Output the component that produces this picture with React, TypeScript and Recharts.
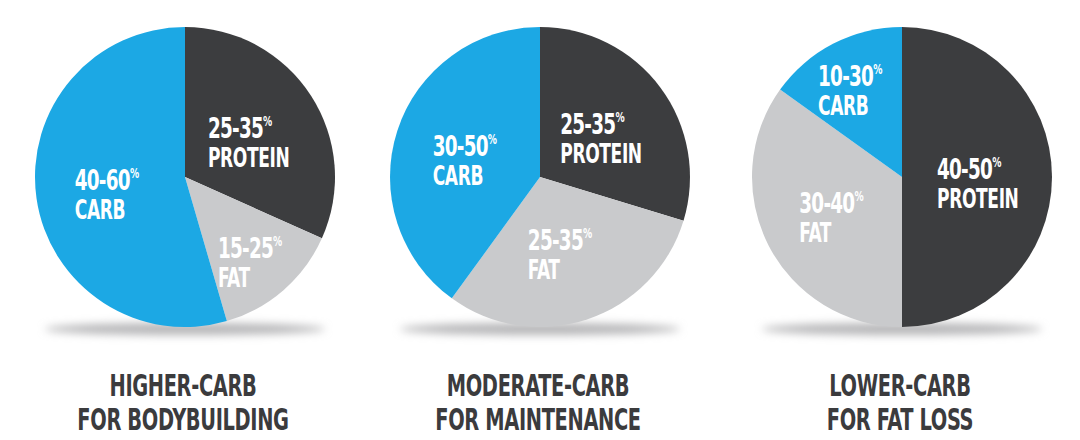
import { PieChart, Pie, Cell } from "recharts";

// slices go clockwise from 12 o'clock: protein, fat, carb
const macroNames = ["PROTEIN", "FAT", "CARB"];
const macroColors = ["#3c3d3f", "#c9cacc", "#1ca8e4"];

const higherCarbRanges = ["25-35", "15-25", "40-60"];
const higherCarbShares = [31.7, 13.8, 54.5];

const moderateCarbRanges = ["25-35", "25-35", "30-50"];
const moderateCarbShares = [29.7, 30.3, 40];

const lowerCarbRanges = ["40-50", "30-40", "10-30"];
const lowerCarbShares = [50, 34.9, 15.1];

const chartTitles = [
  ["HIGHER-CARB", "FOR BODYBUILDING"],
  ["MODERATE-CARB", "FOR MAINTENANCE"],
  ["LOWER-CARB", "FOR FAT LOSS"],
];

const FONT =
  "'Liberation Sans Narrow', 'DejaVu Sans Condensed', 'Roboto Condensed', 'Liberation Sans', Arial, sans-serif";

const RADIAN = Math.PI / 180;
const RADIUS = 150;
const CY = 177;
const centersX = [185, 540, 902];

function buildRows(ranges: string[], shares: number[]) {
  return macroNames.map((name, i) => ({
    name,
    range: ranges[i],
    value: shares[i],
  }));
}

const pies = [
  buildRows(higherCarbRanges, higherCarbShares),
  buildRows(moderateCarbRanges, moderateCarbShares),
  buildRows(lowerCarbRanges, lowerCarbShares),
];

const renderSliceLabel = (props: any) => {
  const { cx, cy, midAngle, outerRadius, percent, payload } = props;
  // small wedges push their text further out
  const factor = percent < 0.2 ? 0.7 : 0.5;
  const r = outerRadius * factor;
  const px = cx + r * Math.cos(-midAngle * RADIAN);
  const py = cy + r * Math.sin(-midAngle * RADIAN);
  const half = payload.name.length > 4 ? 40 : 36;
  return (
    <g transform={`translate(${px - half},${py + 5}) scale(0.73,1)`}>
      <text
        x={0}
        y={-3}
        fill="#ffffff"
        fontFamily={FONT}
        fontWeight="bold"
        fontSize={28}
        letterSpacing={-1}
      >
        {payload.range}
        <tspan fontSize={14} dy={-12}>
          %
        </tspan>
      </text>
      <text
        x={0}
        y={26}
        fill="#ffffff"
        fontFamily={FONT}
        fontWeight="bold"
        fontSize={26}
        letterSpacing={-0.5}
      >
        {payload.name}
      </text>
    </g>
  );
};

export default function App() {
  return (
    <div style={{ position: "absolute", left: 0, top: 0, background: "#fff" }}>
      <PieChart
        width={1080}
        height={440}
        margin={{ top: 0, right: 0, bottom: 0, left: 0 }}
      >
        <defs>
          <filter id="pieShadow" x="-20%" y="-200%" width="140%" height="500%">
            <feGaussianBlur stdDeviation="4" />
          </filter>
        </defs>
        {centersX.map((x) => (
          <ellipse
            key={`shadow-${x}`}
            cx={x}
            cy={329}
            rx={140}
            ry={6}
            fill="#b5b5b7"
            filter="url(#pieShadow)"
          />
        ))}
        {pies.map((rows, i) => (
          <Pie
            key={`pie-${i}`}
            data={rows}
            dataKey="value"
            nameKey="name"
            cx={centersX[i]}
            cy={CY}
            outerRadius={RADIUS}
            startAngle={90}
            endAngle={-270}
            stroke="none"
            label={renderSliceLabel}
            labelLine={false}
            isAnimationActive={false}
          >
            {rows.map((row, j) => (
              <Cell key={row.name} fill={macroColors[j]} />
            ))}
          </Pie>
        ))}
        {chartTitles.map((lines, i) => (
          <g
            key={`title-${i}`}
            transform={`translate(${centersX[i] - 2},0) scale(0.72,1)`}
          >
            {lines.map((line, k) => (
              <text
                key={line}
                x={0}
                y={396 + k * 34}
                textAnchor="middle"
                fill="#3b3b3d"
                fontFamily={FONT}
                fontWeight="bold"
                fontSize={30}
                letterSpacing={-0.5}
              >
                {line}
              </text>
            ))}
          </g>
        ))}
      </PieChart>
    </div>
  );
}
